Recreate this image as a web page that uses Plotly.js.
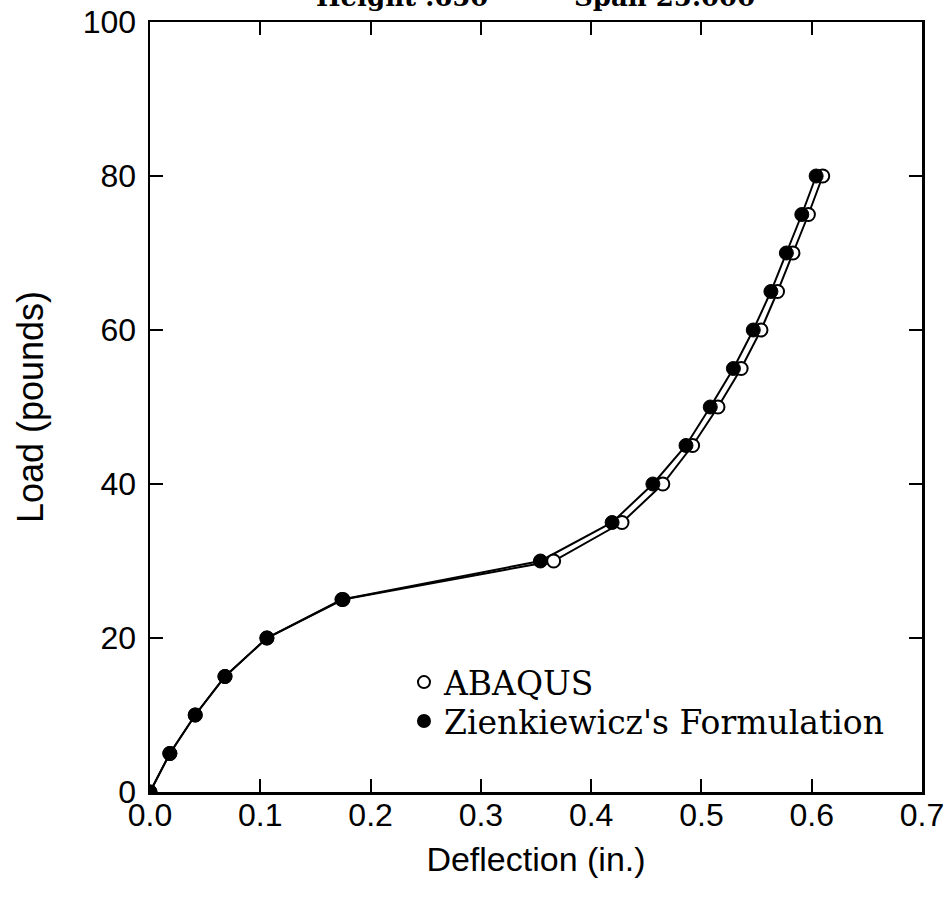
<!DOCTYPE html>
<html>
<head>
<meta charset="utf-8">
<script src="https://cdn.plot.ly/plotly-3.0.1.min.js"></script>
<style>html,body{margin:0;padding:0;background:#fff;}#chart{width:949px;height:907px;}</style>
</head>
<body>
<div id="chart"></div>
<script>
// Load (pounds) levels
var load = [0, 5, 10, 15, 20, 25, 30, 35, 40, 45, 50, 55, 60, 65, 70, 75, 80];
// Deflection (in.) — Zienkiewicz's Formulation
var zienkDefl = [0, 0.018, 0.041, 0.068, 0.106, 0.174, 0.354, 0.419, 0.456, 0.486, 0.508, 0.529, 0.547, 0.563, 0.577, 0.591, 0.604];
// Deflection (in.) — ABAQUS
var abaqusDefl = [0, 0.018, 0.041, 0.068, 0.106, 0.175, 0.366, 0.428, 0.465, 0.492, 0.515, 0.536, 0.554, 0.569, 0.583, 0.597, 0.610];
var seriesNames = ["ABAQUS", "Zienkiewicz's Formulation"];
var xTicks = [0, 0.1, 0.2, 0.3, 0.4, 0.5, 0.6, 0.7];
var yTicks = [0, 20, 40, 60, 80, 100];
var titleLeft = "Height .650";
var titleRight = "Span 25.000";

var serif = "DejaVu Serif";
var sans = "Liberation Sans";

var traces = [
  {x: abaqusDefl, y: load, mode: "lines", type: "scatter", showlegend: false,
   line: {color: "#000", width: 2}, hoverinfo: "skip"},
  {x: zienkDefl, y: load, mode: "lines", type: "scatter", showlegend: false,
   line: {color: "#000", width: 2}, hoverinfo: "skip"},
  {x: abaqusDefl, y: load, mode: "markers", type: "scatter", name: seriesNames[0], legend: "legend",
   marker: {symbol: "circle", size: 13, color: "#fff", line: {color: "#000", width: 2}}},
  {x: zienkDefl, y: load, mode: "markers", type: "scatter", name: seriesNames[1], legend: "legend2",
   marker: {symbol: "circle", size: 14, color: "#000", line: {color: "#000", width: 1}}}
];

var axisCommon = {
  showgrid: false, zeroline: false, showline: true, linecolor: "#000", linewidth: 2.5,
  mirror: "ticks", ticks: "inside", ticklen: 13, tickwidth: 2, tickcolor: "#000",
  tickfont: {family: sans, size: 32, color: "#000"}
};

var legendFont = {family: serif, size: 33, color: "#000"};

var layout = {
  width: 949, height: 907,
  paper_bgcolor: "#fff", plot_bgcolor: "#fff",
  margin: {l: 150, r: 27, t: 22, b: 115},
  xaxis: Object.assign({}, axisCommon, {
    range: [0, 0.7], tickvals: xTicks, tickformat: ".1f", ticklabelstandoff: -7,
    title: {text: "Deflection (in.)", font: {family: sans, size: 34, color: "#000"}, standoff: 16}
  }),
  yaxis: Object.assign({}, axisCommon, {
    range: [0, 100], tickvals: yTicks, ticklabelstandoff: 5,
    title: {text: "Load (pounds)", font: {family: sans, size: 36, color: "#000"}, standoff: 28}
  }),
  legend: {
    x: 0.329, y: 0.179, xanchor: "left", yanchor: "top",
    font: legendFont, bgcolor: "rgba(0,0,0,0)", itemsizing: "constant"
  },
  legend2: {
    x: 0.329, y: 0.1286, xanchor: "left", yanchor: "top",
    font: legendFont, bgcolor: "rgba(0,0,0,0)", itemsizing: "constant"
  },
  annotations: [
    {text: titleLeft, xref: "paper", yref: "paper", x: 0.326, y: 1, xanchor: "center", yanchor: "bottom",
     yshift: 8, showarrow: false, font: {family: serif, size: 26, color: "#000", weight: "bold"}},
    {text: titleRight, xref: "paper", yref: "paper", x: 0.666, y: 1, xanchor: "center", yanchor: "bottom",
     yshift: 8, showarrow: false, font: {family: serif, size: 26, color: "#000", weight: "bold"}}
  ],
  showlegend: true
};

Plotly.newPlot("chart", traces, layout, {displayModeBar: false, staticPlot: true});
</script>
</body>
</html>
